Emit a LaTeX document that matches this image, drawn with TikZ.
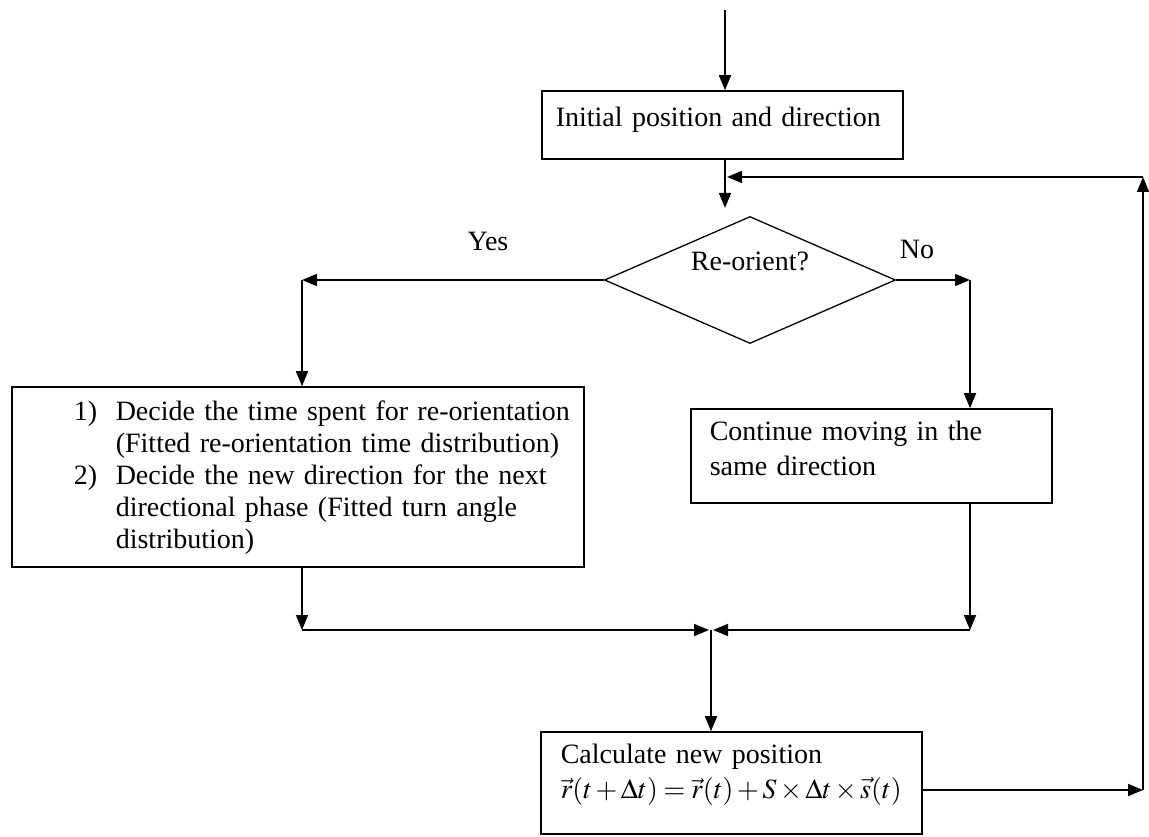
\documentclass[tikz,border=0pt]{standalone}
\usepackage{mathptmx}
\usepackage{fontspec}
\setmainfont{Liberation Serif}
\usetikzlibrary{arrows.meta,shapes.geometric}

\begin{document}
\begin{tikzpicture}[x=1pt,y=-1pt,>={Triangle[length=15pt,width=12pt]},every node/.style={font=\fontsize{28}{32}\selectfont},line/.style={line width=1.6pt},box/.style={draw,line width=1.6pt,align=left,inner ysep=0pt,anchor=base west},decision/.style={draw,diamond,line width=1.3pt,shape aspect=2.3,minimum width=291pt,minimum height=127pt,inner sep=0pt,text height=20pt,text depth=40pt}]
\useasboundingbox (0,0) rectangle (1149,837);
\node[box,text width=333pt,inner xsep=14pt,text height=36pt,text depth=32pt] (init) at (541,127) {Initial position and direction};
\node[decision] (orient) at (750,280) {Re-orient?};
\node (yes) at (488,241) {Yes};\node (no) at (917,249) {No};
\node[box,text width=552pt,inner xsep=10pt,text height=33pt,text depth=147pt] (reorient) at (11,420) {\hspace*{52pt}\makebox[42pt][l]{1)}Decide the time spent for re-orientation\\\hspace*{94pt}(Fitted re-orientation time distribution)\\\hspace*{52pt}\makebox[42pt][l]{2)}Decide the new direction for the next\\\hspace*{94pt}directional phase (Fitted turn angle\\\hspace*{94pt}distribution)};
\node[box,text width=323pt,inner xsep=19pt,text height=31pt,text depth=63pt] (cont) at (690,440) {Continue moving in the\\[3pt]same direction};
\node[box,text width=341pt,inner xsep=20pt,text height=31pt,text depth=71pt] (calc) at (540,763) {Calculate new position\\[3pt]$\vec r(t+\Delta t)=\vec r(t)+S\times\Delta t\times\vec s(t)$};
\coordinate (start) at (725,10);\coordinate (indiam) at (725,208);
\coordinate (yesL) at (302,280);\coordinate (noR) at (970,280);\coordinate (merge) at (711,630);
\coordinate (fbR) at (1143,790);\coordinate (fbT) at (1143,177);\coordinate (fbL) at (727,177);
\draw[line,->] (start)--(start |- init.north);\draw[line,->] (init.south -| indiam)--(indiam);
\draw[line,->] (orient.west)--(yesL);\draw[line,->] (yesL)--(yesL |- reorient.north);
\draw[line,->] (orient.east)--(noR);\draw[line,->] (noR)--(noR |- cont.north);
\draw[line,->] (reorient.south -| yesL)--(yesL |- merge);\draw[line,->,shorten >=2pt] (yesL |- merge)--(merge);
\draw[line,->] (cont.south -| noR)--(noR |- merge);\draw[line,->,shorten >=2pt] (noR |- merge)--(merge);
\draw[line,->] (merge)--(merge |- calc.north);
\draw[line,->] (fbR -| calc.east)--(fbR);\draw[line,->] (fbR)--(fbT);\draw[line,->] (fbT)--(fbL);
\end{tikzpicture}
\end{document}
